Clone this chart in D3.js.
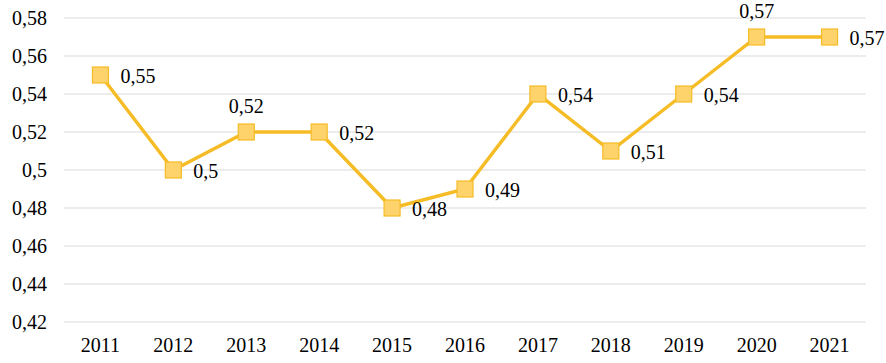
<!DOCTYPE html>
<html>
<head>
<meta charset="utf-8">
<script src="https://cdn.jsdelivr.net/npm/d3@7"></script>
<style>
  body { margin: 0; background: #fff; }
  text { font-family: "Liberation Serif", "Times New Roman", serif; fill: #000; }
</style>
</head>
<body>
<div id="chart"></div>
<script>
// data
let years = ["2011", "2012", "2013", "2014", "2015", "2016", "2017", "2018", "2019", "2020", "2021"];
let values = [0.55, 0.50, 0.52, 0.52, 0.48, 0.49, 0.54, 0.51, 0.54, 0.57, 0.57];
let labelAbove = ["2013", "2020"];
let yTicks = [0.42, 0.44, 0.46, 0.48, 0.50, 0.52, 0.54, 0.56, 0.58];

let width = 886, height = 363;
let margin = {top: 18, right: 20, bottom: 41, left: 64};
let fontSize = "20px";

let svg = d3.select("#chart").append("svg")
    .attr("width", width).attr("height", height);

let x = d3.scaleBand().domain(years)
    .range([margin.left, width - margin.right]);
let y = d3.scaleLinear().domain([0.42, 0.58])
    .range([height - margin.bottom, margin.top]);

let fmt = function(v) { return String(+v.toFixed(2)).replace(".", ","); };

// grid lines
svg.append("g").selectAll("line").data(yTicks).enter().append("line")
    .attr("x1", margin.left).attr("x2", width - margin.right)
    .attr("y1", d => y(d)).attr("y2", d => y(d))
    .attr("stroke", "#d9d9d9").attr("stroke-width", 1.2);

// y axis labels
let yAxis = svg.append("g").attr("transform", "translate(" + (margin.left - 17) + ",0)")
    .call(d3.axisLeft(y).tickValues(yTicks).tickSize(0).tickPadding(0).tickFormat(fmt));
yAxis.select(".domain").remove();
yAxis.selectAll("text").style("font-size", fontSize).style("font-family", "Liberation Serif");

// x axis labels
let xAxis = svg.append("g").attr("transform", "translate(0," + (height - margin.bottom) + ")")
    .call(d3.axisBottom(x).tickSize(0).tickPadding(16));
xAxis.select(".domain").remove();
xAxis.selectAll("text").style("font-size", fontSize).style("font-family", "Liberation Serif");

let cx = (d, i) => x(years[i]) + x.bandwidth() / 2;

// line
let line = d3.line().x((d, i) => cx(d, i)).y(d => y(d));
svg.append("path").datum(values)
    .attr("d", line).attr("fill", "none")
    .attr("stroke", "#f5bc26").attr("stroke-width", 3.4);

// markers
let s = 16;
svg.append("g").selectAll("rect").data(values).enter().append("rect")
    .attr("x", (d, i) => cx(d, i) - s / 2).attr("y", d => y(d) - s / 2)
    .attr("width", s).attr("height", s)
    .attr("fill", "#fed36c").attr("stroke", "#f5bc26").attr("stroke-width", 1.2);

// value labels
svg.append("g").selectAll("text").data(values).enter().append("text")
    .attr("x", (d, i) => labelAbove.indexOf(years[i]) >= 0 ? cx(d, i) : cx(d, i) + 20)
    .attr("y", (d, i) => labelAbove.indexOf(years[i]) >= 0 ? y(d) - 26.5 : y(d) + 1)
    .attr("dy", "0.35em")
    .attr("text-anchor", (d, i) => labelAbove.indexOf(years[i]) >= 0 ? "middle" : "start")
    .style("font-size", fontSize)
    .text(d => fmt(d));
</script>
</body>
</html>
